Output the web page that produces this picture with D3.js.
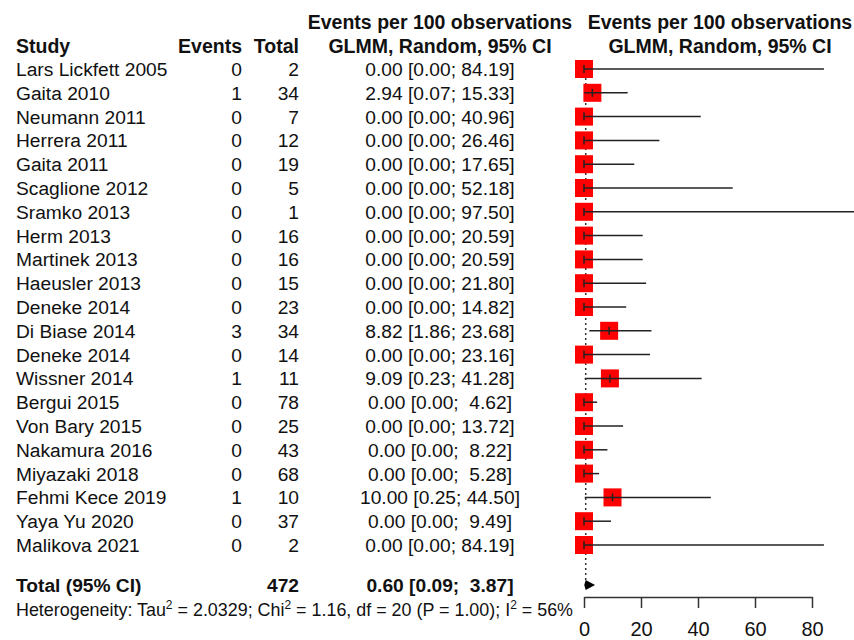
<!DOCTYPE html>
<html>
<head>
<meta charset="utf-8">
<script src="https://cdn.jsdelivr.net/npm/d3@7"></script>
<style>
  body { margin: 0; background: #fff; }
  text { font-family: "Liberation Sans", Arial, sans-serif; fill: #111; }
</style>
</head>
<body>
<div id="chart"></div>
<script>
// study data
const studies = ["Lars Lickfett 2005", "Gaita 2010", "Neumann 2011", "Herrera 2011", "Gaita 2011",
  "Scaglione 2012", "Sramko 2013", "Herm 2013", "Martinek 2013", "Haeusler 2013", "Deneke 2014",
  "Di Biase 2014", "Deneke 2014", "Wissner 2014", "Bergui 2015", "Von Bary 2015", "Nakamura 2016",
  "Miyazaki 2018", "Fehmi Kece 2019", "Yaya Yu 2020", "Malikova 2021"];
const events = [0, 1, 0, 0, 0, 0, 0, 0, 0, 0, 0, 3, 0, 1, 0, 0, 0, 0, 1, 0, 0];
const totals = [2, 34, 7, 12, 19, 5, 1, 16, 16, 15, 23, 34, 14, 11, 78, 25, 43, 68, 10, 37, 2];
const est = [0, 2.94, 0, 0, 0, 0, 0, 0, 0, 0, 0, 8.82, 0, 9.09, 0, 0, 0, 0, 10.00, 0, 0];
const lower = [0, 0.07, 0, 0, 0, 0, 0, 0, 0, 0, 0, 1.86, 0, 0.23, 0, 0, 0, 0, 0.25, 0, 0];
const upper = [84.19, 15.33, 40.96, 26.46, 17.65, 52.18, 97.50, 20.59, 20.59, 21.80, 14.82,
  23.68, 23.16, 41.28, 4.62, 13.72, 8.22, 5.28, 44.50, 9.49, 84.19];

// pooled
const pooledTotal = 472;
const pooled = [0.60, 0.09, 3.87];
const xTicks = [0, 20, 40, 60, 80];

const width = 854, height = 640;
const svg = d3.select("#chart").append("svg")
  .attr("width", width).attr("height", height);

const x = d3.scaleLinear().domain([0, 80]).range([584, 812]);
const y = d3.scaleLinear().domain([0, studies.length - 1]).range([69, 545]);
const yTotal = 585;
const fs = "19.2px";

const fmt = d3.format(".2f");
const ciText = (e, l, u) => {
  let us = fmt(u);
  if (us.length < 5) us = " " + us;
  return fmt(e) + " [" + fmt(l) + "; " + us + "]";
};

const rows = studies.map((s, i) => ({s, e: events[i], n: totals[i], est: est[i], lo: lower[i], hi: upper[i], i}));

// headers
const hdr = svg.append("g").attr("font-weight", "bold").style("font-size", "19.5px");
hdr.append("text").attr("x", 16).attr("y", 53).text("Study");
hdr.append("text").attr("x", 242).attr("y", 53).attr("text-anchor", "end").text("Events");
hdr.append("text").attr("x", 299).attr("y", 53).attr("text-anchor", "end").text("Total");
hdr.append("text").attr("x", 440).attr("y", 29).attr("text-anchor", "middle").text("Events per 100 observations");
hdr.append("text").attr("x", 440).attr("y", 53).attr("text-anchor", "middle").text("GLMM, Random, 95% CI");
hdr.append("text").attr("x", 720).attr("y", 29).attr("text-anchor", "middle").text("Events per 100 observations");
hdr.append("text").attr("x", 720).attr("y", 53).attr("text-anchor", "middle").text("GLMM, Random, 95% CI");

// text columns
const tg = svg.append("g").style("font-size", fs);
const rowG = tg.selectAll("g.row").data(rows).enter().append("g")
  .attr("transform", d => `translate(0,${y(d.i) + 7})`);
rowG.append("text").attr("x", 16).text(d => d.s);
rowG.append("text").attr("x", 242).attr("text-anchor", "end").text(d => d.e);
rowG.append("text").attr("x", 299).attr("text-anchor", "end").text(d => d.n);
rowG.append("text").attr("x", 440).attr("text-anchor", "middle")
  .style("white-space", "pre").text(d => ciText(d.est, d.lo, d.hi));

// total row
const totG = svg.append("g").attr("font-weight", "bold").style("font-size", fs);
totG.append("text").attr("x", 16).attr("y", yTotal + 7).text("Total (95% CI)");
totG.append("text").attr("x", 299).attr("y", yTotal + 7).attr("text-anchor", "end").text(pooledTotal);
totG.append("text").attr("x", 440).attr("y", yTotal + 7).attr("text-anchor", "middle")
  .style("white-space", "pre").text(ciText(pooled[0], pooled[1], pooled[2]));

// heterogeneity
const het = svg.append("text").attr("x", 16).attr("y", 616).style("font-size", "17.9px");
het.append("tspan").text("Heterogeneity: Tau");
het.append("tspan").attr("dy", -7).style("font-size", "12px").text("2");
het.append("tspan").attr("dy", 7).text(" = 2.0329; Chi");
het.append("tspan").attr("dy", -7).style("font-size", "12px").text("2");
het.append("tspan").attr("dy", 7).text(" = 1.16, df = 20 (P = 1.00); I");
het.append("tspan").attr("dy", -7).style("font-size", "12px").text("2");
het.append("tspan").attr("dy", 7).text(" = 56%");

// forest plot
const plot = svg.append("g");
plot.append("line")
  .attr("x1", x(pooled[0])).attr("x2", x(pooled[0]))
  .attr("y1", y(0) + 9).attr("y2", yTotal - 4)
  .attr("stroke", "#333").attr("stroke-width", 1.5).attr("stroke-dasharray", "2,3");

plot.selectAll("rect.sq").data(rows).enter().append("rect")
  .attr("x", d => x(d.est) - 9).attr("y", d => y(d.i) - 9)
  .attr("width", 18).attr("height", 18)
  .attr("fill", "#ff0000");

plot.selectAll("line.ci").data(rows).enter().append("line")
  .attr("x1", d => x(d.lo)).attr("x2", d => x(d.hi))
  .attr("y1", d => y(d.i)).attr("y2", d => y(d.i))
  .attr("stroke", "#222").attr("stroke-width", 1.5);

plot.selectAll("line.tick").data(rows).enter().append("line")
  .attr("x1", d => x(d.est)).attr("x2", d => x(d.est))
  .attr("y1", d => y(d.i) - 4).attr("y2", d => y(d.i) + 4)
  .attr("stroke", "#222").attr("stroke-width", 1.5);

// pooled diamond
plot.append("path")
  .attr("d", `M${x(pooled[1])},${yTotal} L${x(pooled[0])},${yTotal - 5} L${x(pooled[2])},${yTotal} L${x(pooled[0])},${yTotal + 5} Z`)
  .attr("fill", "#000");

// axis
const axis = svg.append("g").attr("transform", "translate(0,597)")
  .call(d3.axisBottom(x).tickValues(xTicks).tickSize(11).tickSizeOuter(0).tickPadding(14));
axis.select(".domain").attr("stroke", "#333").attr("stroke-width", 1.5);
axis.selectAll(".tick line").attr("stroke", "#333").attr("stroke-width", 1.5);
axis.selectAll(".tick text").style("font-size", "20px")
  .style("font-family", "'Liberation Sans', Arial, sans-serif").attr("fill", "#111");
</script>
</body>
</html>
